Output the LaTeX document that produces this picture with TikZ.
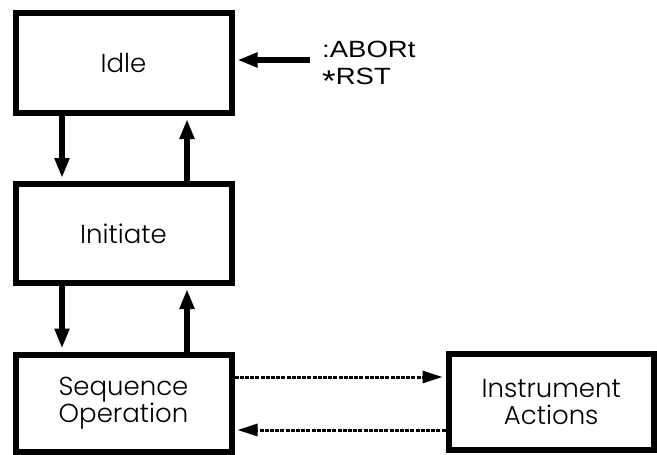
\documentclass[tikz,border=0pt]{standalone}
\usepackage{fontspec}
\setmainfont{Poppins Light}
\newfontfamily\lblfont{Liberation Sans}
\usetikzlibrary{arrows.meta}
\begin{document}
\begin{tikzpicture}[x=1pt,y=-1pt,
  box/.style={draw=black,line width=6pt,inner sep=0pt,align=center,
    font=\fontsize{26}{27}\selectfont},
  thickarrow/.style={line width=5.5pt,-{Triangle[length=20pt,width=14pt]},shorten >=3pt},
  dotarrow/.style={line width=3pt,dash pattern=on 4pt off 1.2pt,
    -{Triangle[length=20pt,width=12pt]},shorten >=3pt},
  lbl/.style={anchor=base west,inner sep=0pt,font=\lblfont\fontsize{23.5}{26}\selectfont}]
\useasboundingbox (0,0) rectangle (657,455);
\node[box,minimum width=216pt,minimum height=100pt] (idle) at (123.5,63) {Idle};
\node[box,minimum width=216pt,minimum height=99pt] (init) at (123.5,233.5) {Initiate};
\node[box,minimum width=216pt,minimum height=97pt] (seq) at (123.5,403) {Sequence\\Operation};
\node[box,minimum width=205.5pt,minimum height=96.5pt] (instr) at (551.25,401.75) {Instrument\\Actions};
\node[lbl] (abort) at (322,57) {\scalebox{1.17}[1]{:ABORt}};
\node[lbl] (rst) at (322,84) {\scalebox{1.17}[1]{\raisebox{-0.3em}{\fontsize{30}{30}\selectfont *}RST}};
\coordinate (cl) at (62,0);
\coordinate (cr) at (187,0);
\coordinate (ab) at (310,60);
\coordinate (d1) at (0,377);
\coordinate (d2) at (0,430);
\draw[thickarrow] (idle.south -| cl) -- (init.north -| cl);
\draw[thickarrow] (init.north -| cr) -- (idle.south -| cr);
\draw[thickarrow] (init.south -| cl) -- (seq.north -| cl);
\draw[thickarrow] (seq.north -| cr) -- (init.south -| cr);
\draw[thickarrow] (ab) -- (ab -| idle.east);
\draw[dotarrow] (seq.east |- d1) -- (instr.west |- d1);
\draw[dotarrow] (instr.west |- d2) -- (seq.east |- d2);
\end{tikzpicture}
\end{document}
